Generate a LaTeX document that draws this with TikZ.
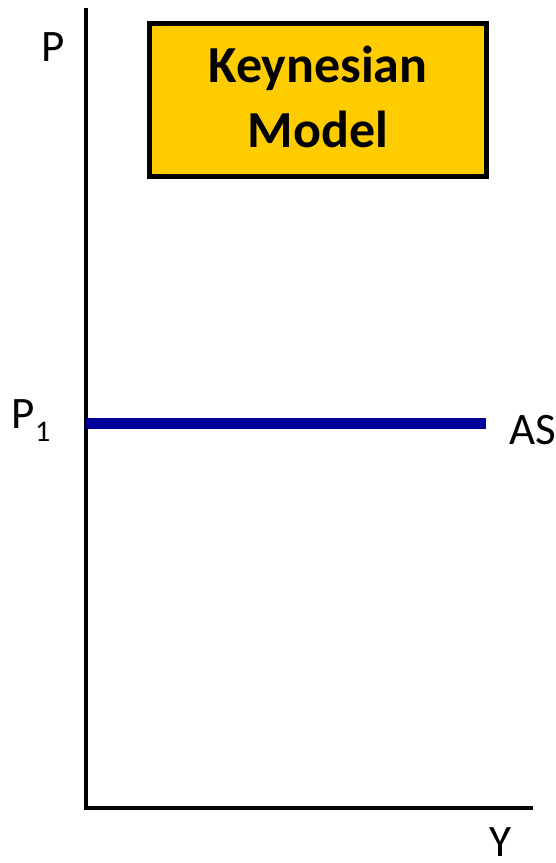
\documentclass[tikz,border=0pt]{standalone}
\usepackage{fontspec}
\setmainfont{Carlito}
\definecolor{asblue}{RGB}{0,0,153}
\definecolor{boxgold}{RGB}{255,204,0}
\begin{document}
\begin{tikzpicture}[x=1pt,y=1pt,
  axis/.style={line width=4pt,line join=miter,black},
  curve/.style={line width=11pt,asblue},
  lbl/.style={inner sep=0pt,anchor=base,font=\fontsize{45}{45}\selectfont},
  titlebox/.style={draw=black,line width=5pt,fill=boxgold,minimum width=336.5pt,minimum height=152.5pt,inner sep=0pt}]
\useasboundingbox (0,0) rectangle (556,863);
% axes
\coordinate (top) at (86,855);
\coordinate (origin) at (86,55);
\coordinate (xend) at (533,55);
\draw[axis] (top) -- (origin) -- (xend);
% horizontal aggregate supply curve
\coordinate (asL) at (86,439);
\coordinate (asR) at (486,439);
\draw[curve] (asL) -- (asR);
% title box
\node[titlebox] (title) at (317.75,762.75) {};
\node[inner sep=0pt,anchor=base,font=\fontsize{52}{52}\selectfont\bfseries] (t1) at (318,780) {Keynesian};
\node[inner sep=0pt,anchor=base,font=\fontsize{52}{52}\selectfont\bfseries] (t2) at (318,715) {Model};
% axis labels
\node[lbl] (plab) at (53,801) {P};
\node[lbl] (p1lab) at (31,434) {P\raisebox{-13pt}{\fontsize{30}{30}\selectfont 1}};
\node[lbl] (aslab) at (533,418) {AS};
\node[lbl,text depth=0pt] (ylab) at (500,6) {Y};
\end{tikzpicture}
\end{document}
